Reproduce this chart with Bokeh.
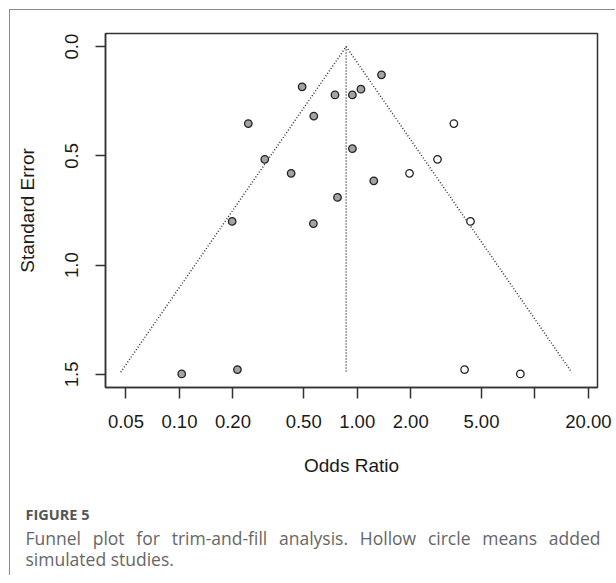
import math
from bokeh.plotting import figure
from bokeh.models import Range1d, FixedTicker, Div
from bokeh.layouts import column
from bokeh.embed import file_html
from bokeh.resources import INLINE

# ---- data ----
observed_or = [1.37, 0.49, 0.75, 0.94, 1.05, 0.57, 0.244, 0.302, 0.94, 0.425,
               1.24, 0.775, 0.198, 0.567, 0.103, 0.212]
observed_se = [0.129, 0.184, 0.221, 0.221, 0.195, 0.318, 0.352, 0.516, 0.467, 0.580,
               0.614, 0.690, 0.800, 0.810, 1.498, 1.478]
filled_or = [3.50, 2.83, 1.97, 4.34, 4.02, 8.28]
filled_se = [0.352, 0.516, 0.580, 0.800, 1.478, 1.498]
center_or = 0.867
se_max = 1.49

x_ticks = [0.05, 0.1, 0.2, 0.5, 1, 2, 5, 10, 20]
x_tick_labels = ["0.05", "0.10", "0.20", "0.50", "1.00", "2.00", "5.00", "", "20.00"]
y_ticks = [0, 0.5, 1, 1.5]
y_tick_labels = ["0.0", "0.5", "1.0", "1.5"]

x_title = "Odds Ratio"
y_title = "Standard Error"
fig_label = "FIGURE 5"
caption = ("Funnel plot for trim-and-fill analysis. Hollow circle means added "
           "simulated studies.")

# ---- layout ----
PW, PH = 605, 475
p = figure(width=PW, height=PH, x_axis_type="log",
           x_range=Range1d(10 ** -1.416, 10 ** 1.352),
           y_range=Range1d(1.56, -0.06),
           output_backend="svg", toolbar_location=None,
           min_border_left=95, min_border_right=18,
           min_border_top=23, min_border_bottom=98)
p.xgrid.visible = False
p.ygrid.visible = False
p.outline_line_color = "#333333"
p.outline_line_width = 1.5
p.outline_line_alpha = 1.0
p.background_fill_color = "white"
p.border_fill_color = "white"

AX_FONT = "Liberation Sans"
for ax in (p.xaxis[0], p.yaxis[0]):
    ax.axis_line_color = "#333333"
    ax.axis_line_width = 1.5
    ax.major_tick_line_color = "#333333"
    ax.major_tick_line_width = 1.5
    ax.major_tick_in = 0
    ax.minor_tick_line_color = None
    ax.major_label_text_font = AX_FONT
    ax.major_label_text_font_size = "18.5px"
    ax.major_label_text_color = "#1a1a1a"
    ax.axis_label_text_font = AX_FONT
    ax.axis_label_text_font_size = "19px"
    ax.axis_label_text_font_style = "normal"
    ax.axis_label_text_color = "#1a1a1a"

xa = p.xaxis[0]
xa.ticker = FixedTicker(ticks=x_ticks)
xa.major_label_overrides = {t: l for t, l in zip(x_ticks, x_tick_labels)}
xa.major_tick_out = 11
xa.major_label_standoff = 16
xa.axis_label = x_title
xa.axis_label_standoff = 24

ya = p.yaxis[0]
ya.ticker = FixedTicker(ticks=y_ticks)
ya.major_label_overrides = {t: l for t, l in zip(y_ticks, y_tick_labels)}
ya.major_tick_out = 10
ya.major_label_standoff = 17
ya.major_label_orientation = "vertical"
ya.axis_label = y_title
ya.axis_label_standoff = 25

# ---- funnel ----
half = 1.96 * se_max
lo = center_or * math.exp(-half)
hi = center_or * math.exp(half)
p.line([lo, center_or, hi], [se_max, 0, se_max], line_color="#333333",
       line_width=1.5, line_dash="1 2")
p.line([center_or, center_or], [0, se_max], line_color="#333333",
       line_width=1.5, line_dash="1 2")

p.scatter(observed_or, observed_se, size=7.5, fill_color="#a3a3a3",
          line_color="#222222", line_width=1.3)
p.scatter(filled_or, filled_se, size=7.5, fill_color="white",
          line_color="#222222", line_width=1.3)

# ---- caption ----
html = (
    '<div style="font-family:\'Open Sans\';box-sizing:content-box;'
    'padding-left:15.5px;width:575px;">'
    '<div style="margin-top:20px;font-size:14.5px;line-height:20px;font-weight:700;'
    'color:#555555;">' + fig_label + '</div>'
    '<div style="margin-top:2.7px;font-size:17.5px;line-height:21.7px;color:#666666;'
    'text-align:justify;">' + caption + '</div></div>'
)
cap = Div(text=html, width=PW, height=90, margin=0)

root = column(p, cap, margin=(9, 0, 0, 9), spacing=0,
              styles={"border-top": "1.5px solid #8c8c8c",
                      "border-left": "1.5px solid #8c8c8c"})

open("out.html", "w").write(file_html(root, INLINE))
